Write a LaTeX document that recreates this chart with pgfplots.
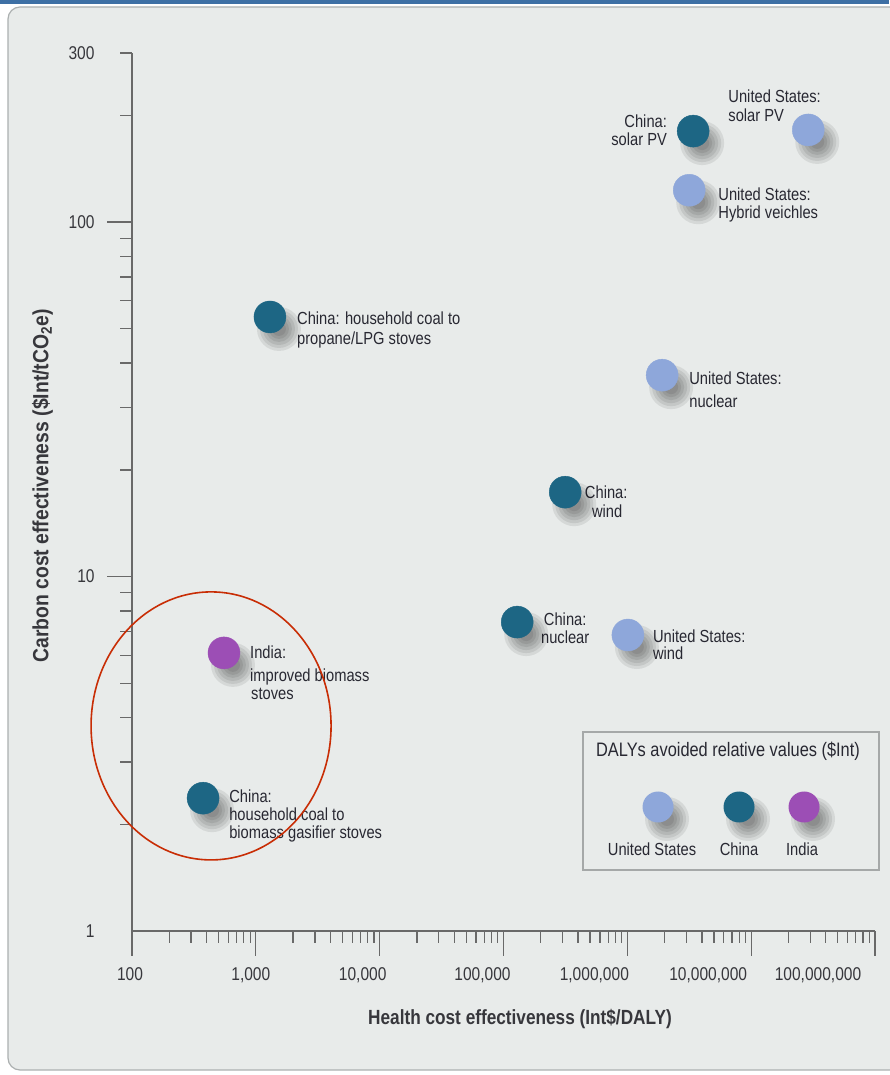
\documentclass[border=0pt]{standalone}
\usepackage{fontspec}
\setmainfont{Liberation Sans}[FakeStretch=0.84]
\newfontfamily\ylabfont{Liberation Sans}[FakeStretch=0.88]
\usepackage{pgfplots}
\pgfplotsset{compat=1.18}
\usepackage{pgfplotstable}

\definecolor{panel}{RGB}{232,235,234}
\definecolor{panelborder}{RGB}{172,176,176}
\definecolor{topblue}{RGB}{62,112,165}
\definecolor{usblue}{RGB}{142,167,218}
\definecolor{chinateal}{RGB}{29,102,132}
\definecolor{indiapurple}{RGB}{156,78,181}
\definecolor{axisgray}{RGB}{105,105,105}
\definecolor{txt}{RGB}{40,40,50}
\definecolor{ticktxt}{RGB}{55,55,60}
\definecolor{ellred}{RGB}{200,45,5}
\definecolor{legborder}{RGB}{165,168,168}

% Health cost effectiveness (Int$/DALY) vs carbon cost effectiveness ($Int/tCO2e)
\pgfplotstableread{
x       y
2.89e7  182
3.16e6  123
1.91e6  37.0
1.01e6  6.84
}\usdata
\pgfplotstableread{
x       y
3.40e6  180.6
1.30e3  54.0
3.15e5  17.3
1.29e5  7.44
375     2.37
}\chinadata
\pgfplotstableread{
x       y
553     6.09
}\indiadata

\pgfplotsset{
  shadowmark/.style={only marks, mark=*, forget plot, color=black,
    mark options={fill=black, draw opacity=0, fill opacity=0.08, xshift=9pt, yshift=-12pt}},
  dotmark/.style={only marks, mark=*, mark size=16pt, color=#1,
    mark options={fill=#1}},
}
\tikzset{
  lbl/.style={font=\fontsize{17.5}{19}\selectfont, text=txt, inner sep=0pt},
  leglbl/.style={font=\fontsize{17.5}{19}\selectfont, text=txt, inner sep=0pt},
}

% soft drop shadow under every dot of a series
\newcommand\dotshadow[1]{%
  \addplot[shadowmark, mark size=22pt] table {#1};
  \addplot[shadowmark, mark size=19pt] table {#1};
  \addplot[shadowmark, mark size=16pt] table {#1};
  \addplot[shadowmark, mark size=13pt] table {#1};
  \addplot[shadowmark, mark size=10pt] table {#1};
  \addplot[shadowmark, mark size=7pt] table {#1};
}
% one line of a point label: x, y, anchor, dx, dy (down), text
\newcommand\dlabel[6]{%
  \node[lbl, anchor=#3, xshift=#4pt, yshift=-#5pt] at (axis cs:#1,#2) {#6};
}
% shadow for a legend symbol
\newcommand\legshadow{%
  \foreach \r in {22,19,16,13,10,7}{\fill[draw=none, black, fill opacity=0.08] (9pt,-12pt) circle (\r pt);}%
}

\begin{document}
\begin{tikzpicture}
\useasboundingbox (0pt,0pt) rectangle (889pt,1075pt);
\fill[white] (0pt,0pt) rectangle (889pt,1075pt);
\filldraw[fill=panel, draw=panelborder, line width=1.2pt, rounded corners=12pt]
  (8pt,5pt) rectangle (910pt,1068pt);
\fill[topblue] (0pt,1071pt) rectangle (889pt,1075pt);

\begin{axis}[
  at={(132pt,144pt)}, anchor=south west,
  scale only axis, width=743pt, height=878pt,
  xmode=log, ymode=log,
  xmin=100, xmax=1e8, ymin=1, ymax=300,
  axis x line=bottom, axis y line=left,
  axis line style={-, draw=axisgray, line width=1.5pt},
  tick align=outside,
  major tick length=25pt, minor tick length=12pt,
  every tick/.style={draw=axisgray, line width=1.3pt},
  xtick={1e2,1e3,1e4,1e5,1e6,1e7,1e8},
  xticklabels={100\kern4pt, {1,000\kern10pt}, {10,000\kern34pt}, {100,000\kern42pt},
    {1,000,000\kern66pt}, {10,000,000\kern86pt}, {100,000,000\kern114pt}},
  minor xtick={200,300,400,500,600,700,800,900,
    2000,3000,4000,5000,6000,7000,8000,9000,
    2e4,3e4,4e4,5e4,6e4,7e4,8e4,9e4,
    2e5,3e5,4e5,5e5,6e5,7e5,8e5,9e5,
    2e6,3e6,4e6,5e6,6e6,7e6,8e6,9e6,
    2e7,3e7,4e7,5e7,6e7,7e7,8e7,9e7},
  ytick={10,100},
  yticklabels={10,100},
  extra y ticks={1,300},
  extra y tick labels={1,300},
  extra y tick style={major tick length=0pt, yticklabel style={xshift=-25pt}},
  minor ytick={2,3,4,5,6,7,8,9,20,30,40,50,60,70,80,90,200,300},
  ticklabel style={font=\fontsize{18.5}{20}\selectfont, text=ticktxt},
  xticklabel style={anchor=base, yshift=-25pt},
  yticklabel style={anchor=east, xshift=-9pt},
  xlabel={Health cost effectiveness (Int\$/DALY)},
  xlabel style={font=\fontsize{20.5}{22}\selectfont\bfseries, text=ticktxt,
    at={(axis description cs:0.5222,0)}, anchor=center, yshift=-88pt},
  ylabel={Carbon cost effectiveness (\$Int/tCO\textsubscript{2}e)},
  ylabel style={font=\ylabfont\fontsize{22}{24}\selectfont\bfseries, text=ticktxt,
    at={(axis description cs:-0.1205,0.5068)}, anchor=center},
  clip=false,
  legend columns=3,
  legend style={at={(axis description cs:0.6945,0.14237)}, anchor=north west,
    draw=none, fill=none, inner sep=0pt, outer sep=0pt,
    column sep=0pt, row sep=0pt, nodes={inner sep=0pt, outer sep=0pt}},
]

\dotshadow{\usdata}
\dotshadow{\chinadata}
\dotshadow{\indiadata}

% legend: symbol above its name, framed, with a title
\addplot[dotmark=usblue, legend image code/.code={%
  \path[draw=none, fill=none] (-10pt,-1pt) rectangle (40pt,1pt);
  \begin{scope}[overlay]
    \legshadow
    \fill[draw=none, usblue] (0pt,0pt) circle (15.5pt);
    \node[leglbl, anchor=base] at (-6pt,-48pt) {United States};
  \end{scope}}] table {\usdata};
\addlegendentry{}
\addplot[dotmark=chinateal, legend image code/.code={%
  \path[draw=none, fill=none] (-40pt,-1pt) rectangle (24pt,1pt);
  \begin{scope}[overlay]
    \draw[legborder, fill=none, line width=1.5pt] (-156pt,75pt) rectangle (140pt,-63pt);
    \node[leglbl, font=\fontsize{19.5}{21}\selectfont, anchor=base] at (-11pt,50pt)
      {DALYs avoided relative values (\$Int)};
    \legshadow
    \fill[draw=none, chinateal] (0pt,0pt) circle (15.5pt);
    \node[leglbl, anchor=base] at (0pt,-48pt) {China};
  \end{scope}}] table {\chinadata};
\addlegendentry{}
\addplot[dotmark=indiapurple, legend image code/.code={%
  \path[draw=none, fill=none] (-40pt,-1pt) rectangle (10pt,1pt);
  \begin{scope}[overlay]
    \legshadow
    \fill[draw=none, indiapurple] (0pt,0pt) circle (15.5pt);
    \node[leglbl, anchor=base] at (-2pt,-48pt) {India};
  \end{scope}}] table {\indiadata};
\addlegendentry{}

% point labels
\dlabel{1.30e3}{54.0}{base west}{27}{8}{China: household coal to}
\dlabel{1.30e3}{54.0}{base west}{27}{28}{propane/LPG stoves}
\dlabel{3.40e6}{180.6}{base east}{-26}{-4}{China:}
\dlabel{3.40e6}{180.6}{base east}{-26}{14}{solar PV}
\dlabel{2.89e7}{182}{base west}{-80}{-27}{United States:}
\dlabel{2.89e7}{182}{base west}{-80}{-8}{solar PV}
\dlabel{3.16e6}{123}{base west}{29}{10}{United States:}
\dlabel{3.16e6}{123}{base west}{29}{28}{Hybrid veichles}
\dlabel{1.91e6}{37.0}{base west}{27}{9}{United States:}
\dlabel{1.91e6}{37.0}{base west}{27}{32}{nuclear}
\dlabel{3.15e5}{17.3}{base}{41}{6}{China:}
\dlabel{3.15e5}{17.3}{base}{42}{25}{wind}
\dlabel{1.29e5}{7.44}{base}{48}{3}{China:}
\dlabel{1.29e5}{7.44}{base}{48}{21}{nuclear}
\dlabel{1.01e6}{6.84}{base west}{25}{7}{United States:}
\dlabel{1.01e6}{6.84}{base west}{25}{24}{wind}
\dlabel{553}{6.09}{base west}{26}{6}{India:}
\dlabel{553}{6.09}{base west}{26}{29}{improved biomass}
\dlabel{553}{6.09}{base west}{27}{47}{stoves}
\dlabel{375}{2.37}{base west}{26}{4}{China:}
\dlabel{375}{2.37}{base west}{26}{22}{household coal to}
\dlabel{375}{2.37}{base west}{26}{40}{biomass gasifier stoves}

% highlighted group of household stove interventions
\draw[ellred, line width=1.6pt] (axis cs:435,3.79) ellipse [x radius=120pt, y radius=134pt];
\end{axis}
\end{tikzpicture}
\end{document}
